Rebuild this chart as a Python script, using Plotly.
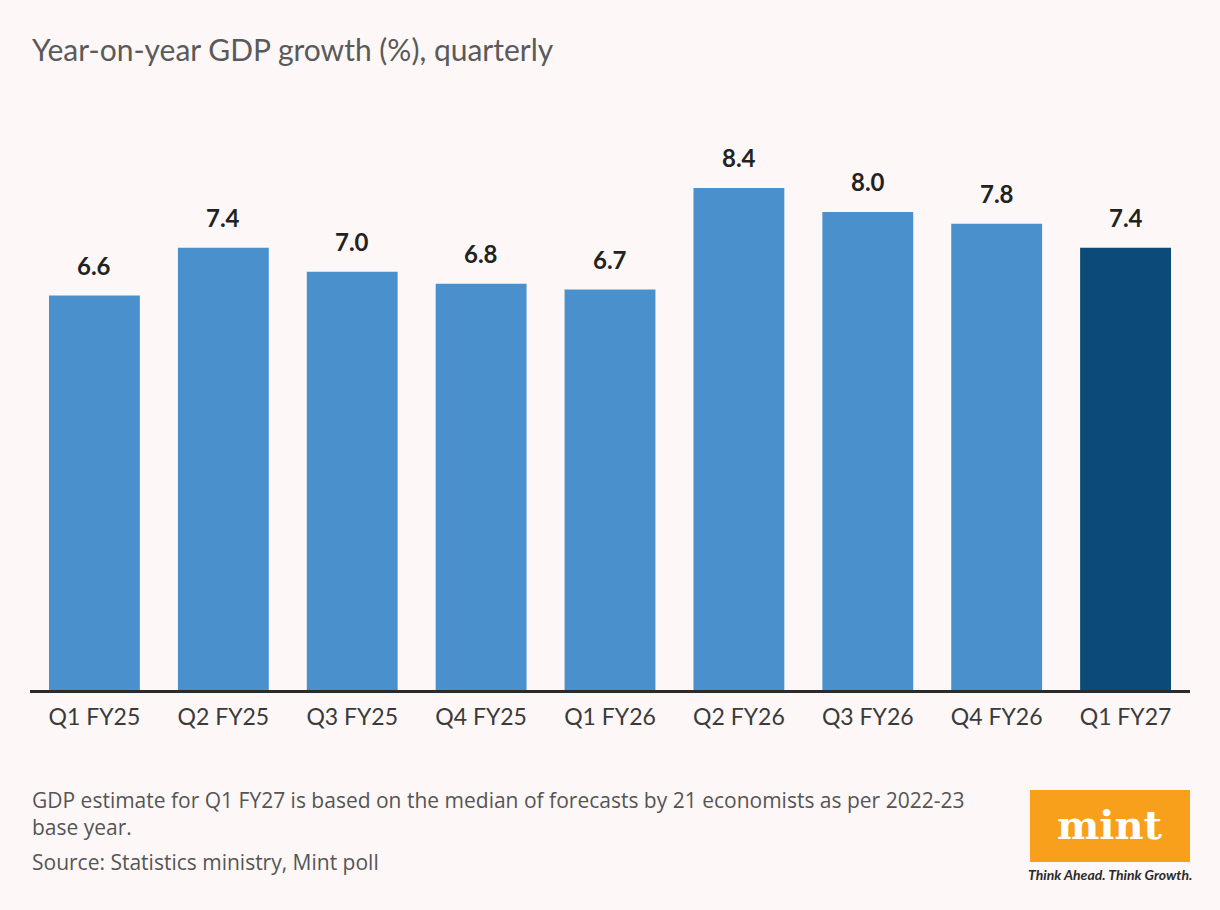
import plotly.graph_objects as go

quarters = ['Q1 FY25', 'Q2 FY25', 'Q3 FY25', 'Q4 FY25', 'Q1 FY26',
            'Q2 FY26', 'Q3 FY26', 'Q4 FY26', 'Q1 FY27']
growth = [6.6, 7.4, 7.0, 6.8, 6.7, 8.4, 8.0, 7.8, 7.4]
is_estimate = [False] * 8 + [True]

BG = '#fdf8f7'
bar_colors = ['#0c4a7a' if e else '#4a90cd' for e in is_estimate]

fig = go.Figure()
fig.add_trace(go.Bar(
    x=quarters, y=growth,
    marker=dict(color=bar_colors, line=dict(width=0)),
    hoverinfo='x+y',
))

# value labels above the bars
for q, v in zip(quarters, growth):
    fig.add_annotation(x=q, y=v, text='<b>%.1f</b>' % v, showarrow=False,
                       yanchor='bottom', yshift=14,
                       font=dict(family='Lato', size=24, color='#222222'))

# title and footnotes (paper coords: plot area spans x 30-1190, y 120-690 px on the page)
fig.add_annotation(text='Year-on-year GDP growth (%), quarterly',
                   xref='paper', yref='paper', x=0, y=(690 - 49) / 570,
                   xanchor='left', yanchor='middle', showarrow=False,
                   font=dict(family='Lato', size=30, color='#5a5a5a'))
fig.add_annotation(text='GDP estimate for Q1 FY27 is based on the median of forecasts by 21 economists as per 2022-23<br>base year.',
                   xref='paper', yref='paper', x=0, y=(690 - 784) / 570,
                   xanchor='left', yanchor='top', align='left', showarrow=False,
                   font=dict(family='Open Sans', size=21, color='#555555'))
fig.add_annotation(text='Source: Statistics ministry, Mint poll',
                   xref='paper', yref='paper', x=0, y=(690 - 862) / 570,
                   xanchor='left', yanchor='middle', showarrow=False,
                   font=dict(family='Open Sans', size=21, color='#555555'))

# mint logo
fig.add_shape(type='rect', xref='paper', yref='paper',
              x0=(1030 - 30) / 1160, x1=1.0,
              y0=(690 - 862) / 570, y1=(690 - 790) / 570,
              fillcolor='#f8a01c', line=dict(width=0), layer='below')
fig.add_annotation(text='<b>mint</b>', xref='paper', yref='paper',
                   x=(1110 - 30) / 1160, y=(690 - 824) / 570,
                   xanchor='center', yanchor='middle', showarrow=False,
                   font=dict(family='DejaVu Serif', size=40, color='white'))
fig.add_annotation(text='<b><i>Think Ahead. Think Growth.</i></b>', xref='paper', yref='paper',
                   x=(1110 - 30) / 1160, y=(690 - 874) / 570,
                   xanchor='center', yanchor='middle', showarrow=False,
                   font=dict(family='Lato', size=14, color='#2a2a2a'))

# page adds an 8px offset, so margins are shifted to compensate
fig.update_layout(
    width=1220, height=910,
    margin=dict(l=22, r=38, t=112, b=228),
    paper_bgcolor=BG, plot_bgcolor=BG,
    bargap=0.295,
    showlegend=False,
    xaxis=dict(showline=True, linecolor='#2b2b2b', linewidth=3,
               ticks='', showgrid=False, ticklabelstandoff=4,
               tickfont=dict(family='Lato', size=23, color='#3a3a3a')),
    yaxis=dict(range=[0, 570 / 59.76], visible=False, showgrid=False,
               zeroline=False),
)

fig.write_html('out.html',
               post_script="document.body.style.background='%s';" % BG)
